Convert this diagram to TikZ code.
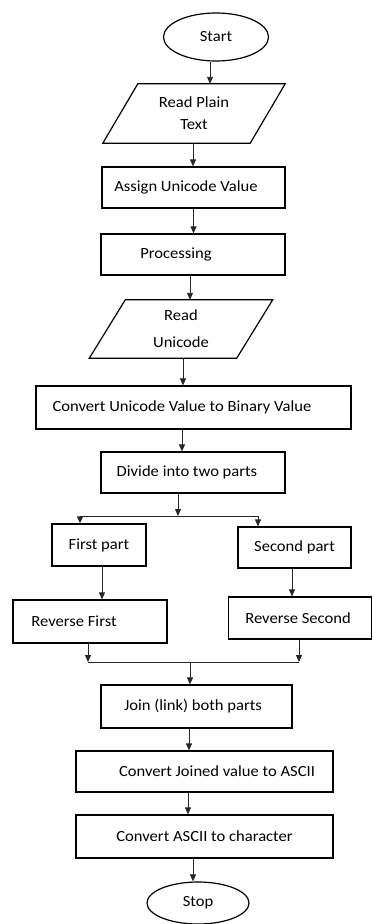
\documentclass[tikz,border=0pt]{standalone}
\usepackage{fontspec}
\setmainfont{Carlito}[FakeStretch=1.07]
\usetikzlibrary{arrows.meta,shapes.geometric}
\begin{document}
\begin{tikzpicture}[x=1pt,y=-1pt,
  txt/.style={font=\fontsize{15.5}{22}\selectfont,inner sep=0pt,align=center},
  box/.style={txt,draw=black,line width=1.2pt},
  term/.style={txt,draw=black,line width=1.2pt,ellipse},
  para/.style={txt},
  border/.style={draw=black,line width=1.2pt,line join=miter},
  arr/.style={draw=black!85,line width=0.9pt,-{Triangle[length=7pt,width=6pt]}},
  ln/.style={draw=black!85,line width=0.9pt}]
\useasboundingbox (0,0) rectangle (373,924);

\node[term,minimum width=105,minimum height=48] (start) at (216,37) {Start};
\node[para,minimum width=147,minimum height=59] (p1) at (194,113.5) {Read Plain\\Text};
\draw[border] ([xshift=17.5]p1.north west) -- ([xshift=17.5]p1.north east) -- ([xshift=-17.5]p1.south east) -- ([xshift=-17.5]p1.south west) -- cycle;
\node[box,minimum width=183,minimum height=41] (assign) at (193.5,187.5) {Assign Unicode Value\kern15pt};
\node[box,minimum width=184,minimum height=41] (proc) at (193,254.5) {Processing\kern34pt};
\node[para,minimum width=147,minimum height=58] (p2) at (181,329) {Read\\[5pt]Unicode};
\draw[border] ([xshift=18]p2.north west) -- ([xshift=18]p2.north east) -- ([xshift=-18]p2.south east) -- ([xshift=-18]p2.south west) -- cycle;
\node[box,minimum width=315,minimum height=43] (conv) at (193.5,407.5) {Convert Unicode Value to Binary Value\kern23pt};
\node[box,minimum width=184,minimum height=41] (divide) at (193,472.5) {Divide into two parts\kern12pt};
\node[box,minimum width=94,minimum height=42] (first) at (99,545) {First part};
\node[box,minimum width=113,minimum height=41] (second) at (294.5,547.5) {Second part};
\node[box,minimum width=154,minimum height=43] (revfirst) at (90,621.5) {Reverse First\kern32pt};
\node[box,minimum width=143,minimum height=42] (revsecond) at (300,618) {Reverse Second\kern4pt};
\node[box,minimum width=191,minimum height=43] (join) at (196.5,706.5) {Join (link) both parts\kern7pt};
\node[box,minimum width=257,minimum height=41] (cja) at (204.5,771.5) {\kern25pt Convert Joined value to ASCII};
\node[box,minimum width=257,minimum height=43] (cac) at (204.5,836.5) {Convert ASCII to character};
\node[term,minimum width=102,minimum height=42] (stop) at (198,903) {Stop};

\coordinate (j1) at (178,516);
\coordinate (jl) at (80,516);
\coordinate (jr) at (258,516);
\coordinate (j2) at (190,662);
\coordinate (kl) at (88,662);
\coordinate (kr) at (299,662);

\draw[arr] ([xshift=-6]start.south) -- ([xshift=-6]start.south |- p1.north);
\draw[arr] ([xshift=-1]p1.south) -- ([xshift=-1]p1.south |- assign.north);
\draw[arr] (assign.south) -- (assign.south |- proc.north);
\draw[arr] ([xshift=-3]proc.south) -- ([xshift=-3]proc.south |- p2.north);
\draw[arr] ([xshift=2]p2.south) -- ([xshift=2]p2.south |- conv.north);
\draw[arr] ([xshift=-11.5]conv.south) -- ([xshift=-11.5]conv.south |- divide.north);
\draw[arr] ([xshift=-15]divide.south) -- (j1);
\draw[ln] (jl) -- (jr);
\draw[arr] (jl) -- (jl |- first.north);
\draw[arr] (jr) -- (jr |- second.north);
\draw[arr] ([xshift=3]first.south) -- ([xshift=3]first.south |- revfirst.north);
\draw[arr] ([xshift=-2.5]second.south) -- ([xshift=-2.5]second.south |- revsecond.north);
\draw[arr] (kl |- revfirst.south) -- (kl);
\draw[arr] (kr |- revsecond.south) -- (kr);
\draw[ln] (kl) -- (kr);
\draw[arr] (j2) -- (j2 |- join.north);
\draw[arr] ([xshift=-7.5]join.south) -- ([xshift=-7.5]join.south |- cja.north);
\draw[arr] ([xshift=-16.5]cja.south) -- ([xshift=-16.5]cja.south |- cac.north);
\draw[arr] ([xshift=-11.5]cac.south) -- ([xshift=-11.5]cac.south |- stop.north);
\end{tikzpicture}
\end{document}
